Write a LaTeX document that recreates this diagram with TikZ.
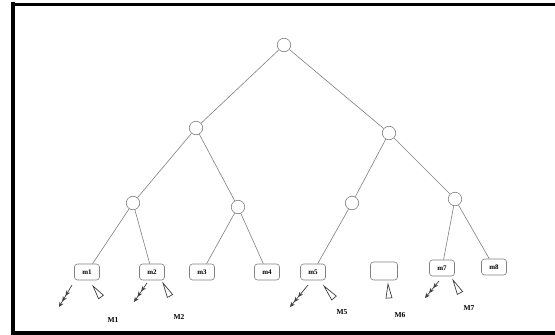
\documentclass[tikz,border=0pt]{standalone}
\usepackage{fontspec}
\setmainfont{Liberation Serif}
\usetikzlibrary{arrows.meta,calc}
\begin{document}
\begin{tikzpicture}[x=1pt,y=-1pt,
  edge/.style={draw=black!50, line width=0.6pt},
  inner/.style={circle, draw=black!50, line width=0.6pt, minimum size=13.5pt, inner sep=0pt, fill=white},
  leaf/.style={rounded corners=3pt, draw=black!50, line width=0.6pt, minimum width=25pt, minimum height=16pt, inner sep=0pt, font=\fontsize{7}{8}\selectfont\bfseries},
  lab/.style={font=\fontsize{7.5}{8}\selectfont\bfseries, inner sep=0pt},
  feather/.style={draw=black!75, line width=0.7pt, -{Stealth[length=5pt,width=4.5pt,sep=1.5pt]Stealth[length=5pt,width=4.5pt,sep=1.5pt]Stealth[length=5pt,width=4.5pt]}},
  hollow/.style={draw=black!75, line width=0.7pt, line join=miter}
]
\useasboundingbox (0,0) rectangle (555,335);
\clip (0,0) rectangle (555,335);
\fill[white] (0,0) rectangle (555,335);
% frame
\draw[line width=3.5pt] (13,4.5) -- (560,4.5);
\draw[line width=3.5pt] (13,2) -- (13,333);
\draw[line width=3.5pt] (11,333) -- (560,333);

% inner nodes
\node[inner] (r) at (284,45) {};
\node[inner] (a) at (196,128) {};
\node[inner] (b) at (389,133) {};
\node[inner] (aa) at (133,203) {};
\node[inner] (ab) at (238,207) {};
\node[inner] (ba) at (352,203) {};
\node[inner] (bb) at (455,199) {};

% leaves
\node[leaf] (m1) at (87,272) {m1};
\node[leaf] (m2) at (152,272) {m2};
\node[leaf] (m3) at (202,272) {m3};
\node[leaf] (m4) at (267,272) {m4};
\node[leaf] (m5) at (313,272) {m5};
\node[leaf, minimum width=27pt, minimum height=18pt] (m6) at (384,271) {};
\node[leaf] (m7) at (442,268) {m7};
\node[leaf] (m8) at (494,267) {m8};

% edges
\draw[edge] (r) -- (a);
\draw[edge] (r) -- (b);
\draw[edge] (a) -- (aa);
\draw[edge] (a) -- (ab);
\draw[edge] (b) -- (ba);
\draw[edge] (b) -- (bb);
\draw[edge] (aa) -- (m1);
\draw[edge] (aa) -- (m2);
\draw[edge] (ab) -- (m3);
\draw[edge] (ab) -- (m4);
\draw[edge] (ba) -- (m5);
\draw[edge] (bb) -- (m7);
\draw[edge] (bb) -- (m8);

% feathered arrows
\coordinate (f1s) at (72,285); \coordinate (f1e) at (59,307);
\coordinate (f2s) at (147,283); \coordinate (f2e) at (134,302);
\coordinate (f5s) at (308,285); \coordinate (f5e) at (290,307);
\coordinate (f7s) at (439,281); \coordinate (f7e) at (425,298);
\draw[feather] (f1s) -- (f1e);
\draw[feather] (f2s) -- (f2e);
\draw[feather] (f5s) -- (f5e);
\draw[feather] (f7s) -- (f7e);

% hollow triangles: apex, base centre
\coordinate (t1a) at (93,286); \coordinate (t1b) at (101,297);
\coordinate (t2a) at (163,283); \coordinate (t2b) at (170,296);
\coordinate (t5a) at (324,286); \coordinate (t5b) at (334,298);
\coordinate (t6a) at (388,284); \coordinate (t6b) at (389,298);
\coordinate (t7a) at (453,280); \coordinate (t7b) at (460,293);
\foreach \t in {1,2,5,6,7}{
  \draw[hollow] (t\t a) -- ($(t\t b)!3pt!90:(t\t a)$) -- ($(t\t b)!3pt!-90:(t\t a)$) -- cycle;
}

% labels
\node[lab] (l1) at (113,320) {M1};
\node[lab] (l2) at (179,317) {M2};
\node[lab] (l5) at (342,312) {M5};
\node[lab] (l6) at (400,315) {M6};
\node[lab] (l7) at (469,308) {M7};
\end{tikzpicture}
\end{document}
